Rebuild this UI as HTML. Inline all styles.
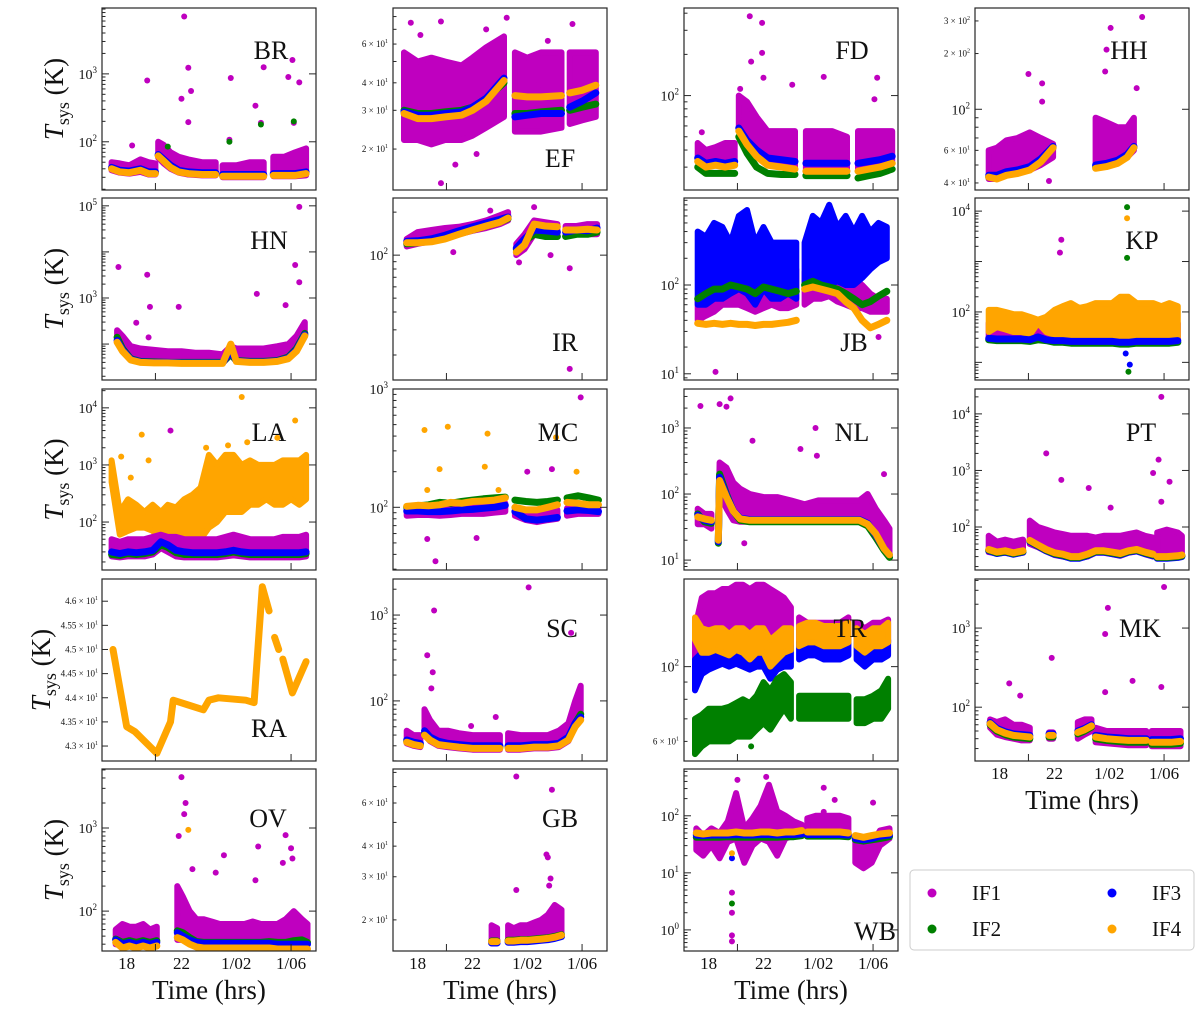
<!DOCTYPE html>
<html><head><meta charset="utf-8"><title>Tsys per station</title>
<style>
html,body{margin:0;padding:0;background:#fff;}
svg{display:block;font-family:"Liberation Serif",serif;}
</style></head>
<body>
<svg id="fig" width="1200" height="1017" viewBox="0 0 1200 1017" xmlns="http://www.w3.org/2000/svg"></svg>
<script>
// ================= DATA (hours; Tsys in K) =================
const BR_t   = [16.9,17.5,18.2,19,19.6,20.1,null,20.3,20.7,21.2,21.8,22.5,23.5,24.5,null,25.0,26,27,28,null,28.7,29.5,30.3,31.1];
const BR_if4 = [40,36,35,38,34,34,null,62,52,42,36,34,33,33,null,31,31,31,31,null,32,32,32,34];
const BR_if3 = [42,38,37,40,36,36,null,65,55,45,38,36,35,35,null,33,33,33,33,null,34,34,34,36];
const BR_if2 = [41,37,36,39,35,35,null,63,53,43,37,35,34,34,null,32,32,32,32,null,33,33,33,35];
const BR_if1lo = [38,35,34,36,33,33,null,58,48,40,35,33,32,32,null,30,30,30,30,null,31,31,31,32];
const BR_if1hi = [50,48,45,55,50,48,null,100,90,70,60,55,50,50,null,45,45,50,50,null,60,60,70,80];
const BR_out_t = [22.2,19.5,22.5,22.0,22.7,25.6,28.0,30.1,29.8,30.6,27.4,18.4,22.5,27.8,30.2,25.5];
const BR_out_v = [7000,800,1230,430,560,870,1250,1600,900,750,340,88,195,190,190,107];
const BR_g_t = [21.0,25.5,27.8,30.2];
const BR_g_v = [85,100,180,200];

const EF_t   = [17,18,19,20,21.2,22,23,24.3,null,25.1,26,27,28.5,null,29.1,30,31];
const EF_if4 = [29,27.5,27.5,28,28.5,30,33,41,null,35,34.5,34.5,35,null,36,37,39];
const EF_if3 = [29.5,28.5,28.5,29,29.5,31,34,42,null,28,28.5,29,29,null,31,33,36];
const EF_if2 = [30,29,29,29.5,30,31,34,40,null,29,29,29.5,30,null,30,31,32];
const EF_if1lo = [22,22,21,22,22,23,25,28,null,24,24,24,25,null,26,27,28];
const EF_if1hi = [55,50,52,50,48,52,58,65,null,55,52,55,55,null,55,55,55];
const EF_out_t = [19.7,24.5,17.5,19.7,20.75,29.3,26.8,22.3,18.2,23.0,27.5];
const EF_out_v = [76,79,75,14,17,74,39,19,66,70,62];

const FD_t   = [17.2,17.8,18.5,19.2,19.9,null,20.2,20.8,21.5,22.3,23.3,24.3,null,25.1,26,27,28.1,null,28.9,29.7,30.5,31.4];
const FD_if4 = [33,30,31,30,31,null,55,44,36,31,30,29,null,28,28,28,28,null,28,29,30,32];
const FD_if3 = [35,32,33,32,33,null,58,47,40,35,34,33,null,32,32,32,32,null,32,33,34,36];
const FD_if2 = [30,27,27,27,27,null,50,38,30,27,26.5,26.5,null,26,26,26,26,null,25,26,27,29];
const FD_if1lo = [33,30,31,30,31,null,55,44,36,31,30,29,null,28,28,28,28,null,28,29,30,32];
const FD_if1hi = [45,40,42,45,45,null,100,90,70,55,55,55,null,55,55,55,50,null,55,55,55,55];
const FD_out_t = [21.0,21.9,21.1,21.9,22.0,24.1,26.4,30.3,30.1,20.3,17.5];
const FD_out_v = [380,340,177,205,135,120,137,135,94,112,54];

const HH_t   = [17.2,17.8,18.5,19.3,20.2,21.0,21.9,null,25.0,25.8,26.6,27.3,27.8];
const HH_if4 = [43,42,44,45,47,52,62,null,48,49,51,55,62];
const HH_if3 = [44,44,46,47,49,54,63,null,50,51,53,57,63];
const HH_if2 = [43,43,45,46,48,53,62,null,49,50,52,56,62];
const HH_if1lo = [42,42,44,46,47,50,55,null,50,50,52,55,60];
const HH_if1hi = [60,62,68,70,75,70,65,null,90,85,80,80,90];
const HH_out_t = [28.4,26.1,25.8,25.7,20.1,21.1,21.1,28.0,21.6];
const HH_out_v = [315,275,210,160,155,138,110,130,41];

const HN_t   = [17.3,17.7,18.3,19,20,21,22,23,24,25,25.6,26,27,28,29,29.8,30.4,31.0];
const HN_if4 = [110,70,45,40,39,39,38,38,38,38,100,42,40,40,42,48,70,150];
const HN_if3 = [120,75,47,41,40,40,39,39,39,39,70,43,41,41,43,50,75,160];
const HN_if2 = [140,80,48,42,41,40,40,40,40,40,60,44,42,42,44,52,80,170];
const HN_if1lo = [110,70,45,40,39,39,38,38,38,38,60,42,40,40,42,48,70,150];
const HN_if1hi = [200,150,90,80,75,70,70,65,65,60,90,80,80,80,90,100,150,300];
const HN_out_t = [17.4,19.5,19.7,21.8,27.5,30.6,30.3,30.6,29.6,18.7,19.6];
const HN_out_v = [4700,3200,640,640,1230,95000,5200,2200,700,290,140];

const IR_t   = [17.2,18,19,20,21,22,23,24,24.6,null,25.2,25.8,26.5,27.3,28.2,null,28.8,29.6,30.4,31.1];
const IR_if4 = [122,122,124,130,140,150,160,170,182,null,105,118,165,160,158,null,150,150,152,150];
const IR_if3 = [125,126,130,138,148,158,168,178,185,null,112,130,150,148,145,null,145,150,148,155];
const IR_if2 = [120,122,128,135,142,150,160,170,180,null,110,125,140,135,135,null,135,140,140,145];
const IR_if1lo = [115,120,125,130,140,148,155,165,175,null,100,110,140,140,140,null,140,140,140,140];
const IR_if1hi = [130,145,150,155,158,165,175,190,200,null,120,140,175,170,165,null,160,160,165,165];
const IR_out_t = [29.1,29.1,20.6,26.5,23.3,25.4,27.7];
const IR_out_v = [81,16,105,217,205,89,100];

const JB_t   = [17.2,17.8,18.4,19,19.6,20.2,20.8,21.4,22,22.6,23.2,23.8,24.4,null,25.0,25.6,26.2,26.8,27.4,28,28.6,29.2,29.8,30.4,31.0];
const JB_if1lo = [40,45,50,60,60,60,55,50,55,60,55,55,60,null,60,70,70,75,65,60,55,55,50,50,50];
const JB_if1hi = [70,80,150,120,150,130,120,120,150,140,150,130,150,null,140,200,150,130,150,140,120,100,80,70,70];
const JB_if3lo = [60,60,70,70,80,90,80,60,90,70,70,80,70,null,90,100,90,100,110,100,100,120,150,180,200];
const JB_if3hi = [400,350,500,450,300,600,700,300,450,300,300,300,300,null,300,600,500,800,450,600,400,600,400,500,450];
const JB_if2 = [70,80,90,90,100,95,90,80,95,90,85,80,85,null,100,110,100,95,90,80,70,60,65,75,85];
const JB_if4 = [37,36,37,36,37,36,36,35,36,36,37,38,40,null,90,95,90,85,80,65,55,40,33,36,40];
const JB_out_t = [18.5,30.4];
const JB_out_v = [10.5,26];

const KP_t   = [17.2,17.8,18.4,19,19.6,20.2,20.8,21.4,22,22.6,23.2,23.8,24.4,25,25.6,26.2,26.8,27.4,28,28.6,29.2,29.8,30.4,31];
const KP_if2 = [28,27,27,27,27,26,28,27,25,25,24,24,24,24,24,24,23,23,24,24,24,24,24,25];
const KP_if3 = [30,29,29,29,29,28,32,28,27,27,26,26,26,26,26,26,25,25,26,26,26,26,26,27];
const KP_if4lo = [40,50,45,40,40,35,60,40,35,32,30,30,30,32,30,30,30,30,32,30,30,30,30,30];
const KP_if4hi = [110,110,100,90,90,80,70,80,110,130,150,120,130,150,150,150,200,200,150,150,150,130,150,130];
const KP_if1lo = [28,28,28,28,28,28,30,30,28,28,28,28,28,28,28,28,28,28,28,28,28,28,28,28];
const KP_if1hi = [60,70,80,50,60,50,60,70,80,70,60,60,60,70,70,80,100,100,90,60,60,60,60,60];
const KP_out_t = [22.5,22.4];
const KP_out_v = [2700,1500];
const KP_g_t = [27.3,27.3,27.4];
const KP_g_v = [12000,1180,6.5];
const KP_b_t = [27.5,27.2];
const KP_b_v = [9,15];
const KP_o_t = [27.3];
const KP_o_v = [7200];

const LA_t   = [16.9,17.5,18.1,18.7,19.3,19.9,20.5,21,21.6,22.2,22.8,23.4,24,24.6,25.2,25.8,26.4,27,27.6,28.2,28.8,29.4,30,30.6,31.1];
const LA_if3 = [30,28,30,29,30,32,45,40,32,30,29,29,29,29,30,32,30,29,29,29,29,29,29,29,30];
const LA_if2 = [27,26,28,27,28,30,40,36,29,27,27,27,27,27,28,30,28,27,27,27,27,27,27,27,28];
const LA_if1lo = [25,24,25,25,25,27,35,30,25,24,24,24,24,24,25,26,25,24,24,24,24,24,24,24,25];
const LA_if1hi = [50,45,50,50,50,55,60,55,55,50,50,50,50,50,55,60,55,50,50,50,50,55,55,55,60];
const LA_if4lo = [500,60,70,80,80,70,50,45,45,45,45,50,80,100,150,150,150,200,200,250,200,200,250,200,250];
const LA_if4hi = [1200,150,250,200,150,200,150,200,180,250,300,400,1500,1000,1500,1500,1000,1200,1000,1000,1000,1200,1200,1200,1500];
const LA_o_t = [26.4,30.3,19.1,17.6,18.3,19.6,23.8,25.4,26.8,29.0];
const LA_o_v = [15500,6000,3400,1400,600,1200,2000,2200,2500,3000];
const LA_out_t = [21.2];
const LA_out_v = [4000];

const MC_t   = [17.2,18,18.8,19.6,20.4,21.2,22,22.8,23.6,24.4,null,25.1,25.9,26.7,27.5,28.2,null,28.9,29.7,30.5,31.2];
const MC_if3 = [93,93,92,92,93,95,96,98,100,104,null,92,80,78,80,82,null,93,95,94,92];
const MC_if2 = [100,103,105,110,108,112,115,118,120,122,null,115,112,110,112,115,null,120,125,120,115];
const MC_if4 = [102,104,103,105,110,108,112,113,115,120,null,100,95,95,100,105,null,110,108,105,105];
const MC_if1lo = [85,86,86,85,86,88,88,88,90,92,null,85,78,75,78,80,null,85,88,88,88];
const MC_if1hi = [95,98,96,95,96,98,100,102,104,108,null,100,95,92,95,95,null,98,100,100,98];
const MC_o_t = [18.5,20.2,23.1,19.6,22.9,28.1,29.6,23.9,18.7];
const MC_o_v = [450,480,420,210,220,390,200,140,140];
const MC_out_t = [29.9,19.3,18.7,22.3,26.0,27.8];
const MC_out_v = [850,35,54,55,200,210];

const NL_t   = [17.2,17.7,18.2,null,18.7,18.8,19.3,19.8,20.3,21,22,23,24,25,26,27,28,29,29.6,30.2,30.8,31.2];
const NL_if4 = [45,42,40,null,20,160,90,55,42,40,40,40,40,40,40,40,40,40,35,25,15,12];
const NL_if3 = [48,40,38,null,19,180,95,56,43,41,41,41,41,41,41,41,41,41,36,24,15,12];
const NL_if2 = [50,38,36,null,18,200,100,55,40,38,38,38,38,38,38,38,38,38,33,22,14,11];
const NL_if1lo = [35,35,30,null,20,100,60,40,38,38,38,38,38,38,38,38,38,38,33,22,14,12];
const NL_if1hi = [60,50,50,null,30,300,250,150,120,100,90,90,80,70,80,80,80,80,100,60,40,30];
const NL_out_t = [17.4,18.8,19.3,19.6,25.8,21.2,24.7,30.8,20.6,25.9];
const NL_out_v = [2150,2300,2100,2800,1000,640,480,200,18,380];

const PT_t   = [17.2,17.8,18.4,19,19.7,null,20.2,20.8,21.4,22,22.6,23.2,23.8,24.4,25.0,25.6,26.2,26.8,27.4,28,28.6,29.2,null,29.5,30.2,31,31.3];
const PT_if4 = [40,36,38,35,38,null,58,48,40,35,33,30,30,33,38,38,36,34,38,40,36,33,null,30,30,31,32];
const PT_if3 = [38,34,36,33,36,null,55,46,38,33,31,28,28,31,36,36,34,32,36,38,34,31,null,28,28,29,30];
const PT_if2 = [39,35,37,34,37,null,57,47,39,34,32,29,29,32,37,37,35,33,37,39,35,32,null,29,29,30,31];
const PT_if1lo = [36,34,35,33,35,null,50,44,37,32,30,28,28,30,35,35,33,31,35,37,33,30,null,28,28,29,30];
const PT_if1hi = [70,55,60,55,60,null,130,100,90,80,75,70,70,70,65,70,70,70,75,80,70,65,null,80,90,80,70];
const PT_out_t = [29.8,21.4,29.6,29.2,30.4,22.5,24.5,29.8,26.1];
const PT_out_v = [20000,2000,1550,900,630,680,490,280,220];

const RA_t   = [17.0,18.0,18.6,20.2,21.2,21.4,22.5,23.6,24.0,24.7,26.7,27.3,27.9,28.4,null,28.8,29.1,null,29.4,30.1,31.1];
const RA_if4 = [45.0,43.4,43.3,42.85,43.5,43.95,43.85,43.75,43.95,44.0,43.95,43.9,46.3,45.8,null,45.25,45.0,null,44.8,44.1,44.75];

const SC_t   = [17.2,17.7,18.2,null,18.5,18.9,19.5,20.2,21,22,23,24,null,24.6,25.5,26.5,27.5,28.3,29,29.5,29.9];
const SC_if4 = [33,31,30,null,40,35,31,30,29,28,28,28,null,28,28,29,29,30,35,50,60];
const SC_if3 = [35,33,32,null,45,38,34,32,31,30,30,30,null,30,30,31,31,32,38,55,65];
const SC_if2 = [34,32,31,null,42,37,33,31,30,29,29,29,null,29,29,30,30,31,37,55,70];
const SC_if1lo = [32,30,29,null,40,34,30,29,28,27,27,27,null,27,27,28,28,29,34,50,60];
const SC_if1hi = [45,40,40,null,80,60,45,45,42,40,40,40,null,42,40,40,40,45,55,100,150];
const SC_out_t = [26.1,19.2,18.7,19.1,29.2,19.0,23.7,21.9];
const SC_out_v = [2100,1130,340,216,620,140,65,51];

const TR_t   = [17.0,17.5,18,18.5,19,19.5,20,20.5,21,21.5,22,22.5,23,23.5,24,null,24.6,25.2,25.8,26.4,27,27.6,28.2,null,28.8,29.4,30,30.6,31.1];
const TR_if1lo = [95,110,110,115,115,110,115,115,110,115,115,105,110,115,115,null,115,120,120,118,118,118,120,null,115,112,115,115,118];
const TR_if1hi = [130,160,165,165,170,170,175,175,170,175,175,170,165,160,150,null,140,135,135,135,135,135,140,null,135,130,135,135,138];
const TR_if3lo = [85,95,98,100,102,100,102,100,98,100,100,92,98,100,100,null,105,108,108,105,105,105,108,null,105,100,105,105,108];
const TR_if3hi = [105,110,112,115,115,112,115,115,112,115,115,110,112,115,115,null,118,120,120,118,118,118,120,null,118,112,118,118,120];
const TR_if4lo = [120,110,110,112,110,108,112,110,105,110,110,100,105,110,112,null,115,118,118,115,115,115,118,null,115,110,115,115,118];
const TR_if4hi = [140,130,128,130,130,125,130,130,125,130,130,120,125,130,130,null,132,135,135,132,132,132,135,null,130,125,130,130,135];
const TR_if2lo = [55,58,60,60,60,60,62,62,62,65,68,65,70,75,70,null,70,70,70,70,70,70,70,null,68,68,70,70,75];
const TR_if2hi = [70,72,75,75,75,76,78,80,78,82,90,85,92,95,90,null,82,82,82,82,82,82,82,null,80,80,82,85,92];
const TR_out_t = [20.4,22.0];
const TR_out_v = [173,172];
const TR_g_t = [21.1];
const TR_g_v = [58];

const MK_t   = [17.3,17.8,18.4,19,19.6,20.2,null,21.6,21.9,null,23.7,24.2,24.7,null,25.0,25.8,26.6,27.4,28.2,28.7,null,29.1,29.8,30.5,31.2];
const MK_if4 = [62,52,47,44,43,42,null,44,44,null,48,52,58,null,42,40,39,38,38,38,null,36,36,36,37];
const MK_if3 = [64,54,49,46,45,44,null,46,46,null,50,54,60,null,44,42,41,40,40,40,null,39,39,39,40];
const MK_if2 = [60,50,45,42,41,40,null,42,42,null,46,50,56,null,40,38,37,36,36,36,null,34,34,34,35];
const MK_if1lo = [55,45,42,40,38,38,null,40,40,null,40,45,50,null,36,35,34,33,33,33,null,32,32,32,32];
const MK_if1hi = [70,65,70,60,60,55,null,48,48,null,65,70,70,null,55,50,50,50,50,50,null,50,50,50,50];
const MK_out_t = [30.0,25.9,25.7,21.8,18.7,19.5,27.7,25.7,29.8];
const MK_out_v = [3300,1800,840,420,200,140,215,155,180];

const OV_t   = [17.2,17.7,18.2,18.7,19.2,19.7,20.2,null,21.7,22.1,22.6,23.1,23.6,24.2,24.8,25.4,26,26.6,27.2,27.8,28.4,29,29.6,30.2,30.8,31.2];
const OV_if4 = [42,36,38,36,38,36,38,null,48,45,40,37,36,36,36,36,36,36,36,36,36,35,35,35,35,35];
const OV_if3 = [45,40,42,40,42,40,42,null,55,50,45,42,41,41,41,41,41,41,41,41,41,40,40,40,40,40];
const OV_if2 = [46,42,44,42,44,42,44,null,58,55,48,43,42,42,42,42,42,42,42,42,43,42,42,44,45,42];
const OV_if1lo = [40,38,40,38,40,38,40,null,45,45,42,40,40,40,40,40,40,40,40,40,40,40,40,40,40,40];
const OV_if1hi = [60,70,65,65,70,60,65,null,200,150,100,80,80,75,70,70,70,70,75,70,70,70,80,100,80,70];
const OV_out_t = [22.0,22.3,22.2,21.8,25.1,27.6,29.6,30.0,29.4,30.1,24.5,27.4,22.8];
const OV_out_v = [4100,2000,1470,800,470,600,820,570,380,430,290,235,320];
const OV_o_t = [22.5];
const OV_o_v = [950];

const GB_t   = [23.4,23.8,null,24.6,25,25.5,26,26.5,27,27.5,28,28.5];
const GB_if4 = [16.3,16.3,null,16.4,16.4,16.5,16.5,16.6,16.7,16.8,17.0,17.3];
const GB_if3 = [16.1,16.1,null,16.2,16.2,16.3,16.3,16.4,16.5,16.6,16.8,17.1];
const GB_if2 = [16.4,16.4,null,16.5,16.5,16.6,16.6,16.7,16.8,16.9,17.1,17.4];
const GB_if1lo = [16.3,16.3,null,16.4,16.4,16.5,16.5,16.6,16.7,16.8,17.0,17.3];
const GB_if1hi = [19,18.5,null,19,18.5,19,19,19.5,20,21,23,22];
const GB_out_t = [25.2,27.8,27.4,27.5,27.7,25.2,27.6];
const GB_out_v = [77,68,37,36,29.5,26.5,27.6];

const WB_t   = [17.1,17.6,18.2,18.8,19.4,20,20.6,21.2,21.8,22.4,23,23.6,24.2,24.8,null,25.2,25.8,26.4,27,27.6,28.2,null,28.7,29.3,29.9,30.5,31.2];
const WB_if4 = [50,48,50,50,50,52,50,50,52,52,50,52,52,55,null,52,52,52,52,52,50,null,45,42,45,48,50];
const WB_if3 = [46,45,46,46,46,47,46,46,47,47,46,47,47,48,null,47,47,47,47,47,46,null,40,38,40,44,46];
const WB_if2 = [42,42,42,42,43,42,42,42,42,42,42,43,43,45,null,44,44,44,44,44,43,null,38,36,38,40,43];
const WB_if1lo = [25,20,30,18,35,40,15,30,40,35,20,40,45,45,null,50,50,48,48,48,48,null,15,12,15,30,40];
const WB_if1hi = [60,45,60,50,80,250,60,90,150,350,120,100,80,70,null,90,100,100,100,100,90,null,40,30,30,55,60];
const WB_out_t = [19.7,19.7,19.7,19.7,20.1,22.2,26.4,30.0,26.4,27.2];
const WB_out_v = [4.5,2,0.8,0.63,425,480,117,170,310,190];
const WB_g_t = [19.7];
const WB_g_v = [2.9];
const WB_b_t = [19.7];
const WB_b_v = [18];
const WB_o_t = [19.7];
const WB_o_v = [22];

const TIME_TICKS = [18,22,26,30];
const TIME_LABELS = ["18","22","1/02","1/06"];
const RA_TICKS = [43.0,43.5,44.0,44.5,45.0,45.5,46.0];
const RA_TICK_LABELS = ["4.3","4.35","4.4","4.45","4.5","4.55","4.6"];

// ================= LAYOUT =================
const C = {IF1:"#bf00bf", IF2:"#008000", IF3:"#0000ff", IF4:"#ffa500"};
const COLS = [102,393,684,975], PW = 214;
const ROWS = [[8,190],[198,380],[389,570],[579,761],[769,951]];
const T0 = 16.2, PXH = 13.7;
const NS = "http://www.w3.org/2000/svg";
const svg = document.getElementById('fig');

function mk(tag, attrs, parent){
  const e = document.createElementNS(NS, tag);
  for (const k in attrs) e.setAttribute(k, attrs[k]);
  (parent||svg).appendChild(e);
  return e;
}

const panels = [
 {id:"BR",c:0,r:0,lo:1.29,hi:3.97,pow:[2,3],lab:[271,50],
  lines:[[BR_t,BR_if2,"IF2"],[BR_t,BR_if3,"IF3"],[BR_t,BR_if4,"IF4"]],bands:[[BR_t,BR_if1lo,BR_if1hi,"IF1"]],
  pts:[[BR_out_t,BR_out_v,"IF1"],[BR_g_t,BR_g_v,"IF2"]]},
 {id:"EF",c:1,r:0,lo:1.115,hi:1.942,mant:[20,30,40,60],lab:[560,158],
  lines:[[EF_t,EF_if2,"IF2"],[EF_t,EF_if3,"IF3"],[EF_t,EF_if4,"IF4"]],bands:[[EF_t,EF_if1lo,EF_if1hi,"IF1"]],
  pts:[[EF_out_t,EF_out_v,"IF1"]]},
 {id:"FD",c:2,r:0,lo:1.31,hi:2.64,pow:[2],lab:[852,50],
  lines:[[FD_t,FD_if2,"IF2"],[FD_t,FD_if3,"IF3"],[FD_t,FD_if4,"IF4"]],bands:[[FD_t,FD_if1lo,FD_if1hi,"IF1"]],
  pts:[[FD_out_t,FD_out_v,"IF1"]]},
 {id:"HH",c:3,r:0,lo:1.564,hi:2.547,pow:[2],mant:[40,60,200,300],lab:[1129,50],
  lines:[[HH_t,HH_if2,"IF2"],[HH_t,HH_if3,"IF3"],[HH_t,HH_if4,"IF4"]],bands:[[HH_t,HH_if1lo,HH_if1hi,"IF1"]],
  pts:[[HH_out_t,HH_out_v,"IF1"]]},
 {id:"HN",c:0,r:1,lo:1.22,hi:5.17,pow:[3,5],lab:[269,240],
  lines:[[HN_t,HN_if2,"IF2"],[HN_t,HN_if3,"IF3"],[HN_t,HN_if4,"IF4"]],bands:[[HN_t,HN_if1lo,HN_if1hi,"IF1"]],
  pts:[[HN_out_t,HN_out_v,"IF1"]]},
 {id:"IR",c:1,r:1,lo:1.126,hi:2.40,pow:[2],lab:[565,342],
  lines:[[IR_t,IR_if2,"IF2"],[IR_t,IR_if3,"IF3"],[IR_t,IR_if4,"IF4"]],bands:[[IR_t,IR_if1lo,IR_if1hi,"IF1"]],
  pts:[[IR_out_t,IR_out_v,"IF1"]]},
 {id:"JB",c:2,r:1,lo:0.93,hi:2.98,pow:[1,2],lab:[854,342],
  lines:[[JB_t,JB_if2,"IF2"],[JB_t,JB_if4,"IF4"]],bands:[[JB_t,JB_if3lo,JB_if3hi,"IF3"],[JB_t,JB_if1lo,JB_if1hi,"IF1"]],
  order:["band1","band0","lines"],
  pts:[[JB_out_t,JB_out_v,"IF1"]]},
 {id:"KP",c:3,r:1,lo:0.65,hi:4.26,pow:[2,4],lab:[1142,240],
  lines:[[KP_t,KP_if2,"IF2"],[KP_t,KP_if3,"IF3"]],bands:[[KP_t,KP_if1lo,KP_if1hi,"IF1"],[KP_t,KP_if4lo,KP_if4hi,"IF4"]],
  pts:[[KP_out_t,KP_out_v,"IF1"],[KP_g_t,KP_g_v,"IF2"],[KP_b_t,KP_b_v,"IF3"],[KP_o_t,KP_o_v,"IF4"]]},
 {id:"LA",c:0,r:2,lo:1.16,hi:4.33,pow:[2,3,4],lab:[269,432],
  lines:[[LA_t,LA_if2,"IF2"],[LA_t,LA_if3,"IF3"]],bands:[[LA_t,LA_if1lo,LA_if1hi,"IF1"],[LA_t,LA_if4lo,LA_if4hi,"IF4"]],
  order:["band1","band0","lines"],
  pts:[[LA_out_t,LA_out_v,"IF1"],[LA_o_t,LA_o_v,"IF4"]]},
 {id:"MC",c:1,r:2,lo:1.47,hi:3.0,pow:[2,3],lab:[558,432],
  lines:[[MC_t,MC_if2,"IF2"],[MC_t,MC_if3,"IF3"],[MC_t,MC_if4,"IF4"]],bands:[[MC_t,MC_if1lo,MC_if1hi,"IF1"]],
  pts:[[MC_out_t,MC_out_v,"IF1"],[MC_o_t,MC_o_v,"IF4"]]},
 {id:"NL",c:2,r:2,lo:0.85,hi:3.59,pow:[1,2,3],lab:[852,432],
  lines:[[NL_t,NL_if2,"IF2"],[NL_t,NL_if3,"IF3"],[NL_t,NL_if4,"IF4"]],bands:[[NL_t,NL_if1lo,NL_if1hi,"IF1"]],
  pts:[[NL_out_t,NL_out_v,"IF1"]]},
 {id:"PT",c:3,r:2,lo:1.24,hi:4.44,pow:[2,3,4],lab:[1141,432],
  lines:[[PT_t,PT_if3,"IF3"],[PT_t,PT_if2,"IF2"],[PT_t,PT_if4,"IF4"]],bands:[[PT_t,PT_if1lo,PT_if1hi,"IF1"]],
  pts:[[PT_out_t,PT_out_v,"IF1"]]},
 {id:"RA",c:0,r:3,lin:true,lo:42.69,hi:46.46,lab:[269,728],
  lines:[[RA_t,RA_if4,"IF4"]],bands:[],pts:[]},
 {id:"SC",c:1,r:3,lo:1.30,hi:3.42,pow:[2,3],lab:[562,628],
  lines:[[SC_t,SC_if2,"IF2"],[SC_t,SC_if3,"IF3"],[SC_t,SC_if4,"IF4"]],bands:[[SC_t,SC_if1lo,SC_if1hi,"IF1"]],
  pts:[[SC_out_t,SC_out_v,"IF1"]]},
 {id:"TR",c:2,r:3,lo:1.72,hi:2.26,pow:[2],mant:[60],lab:[850,628],
  lines:[],bands:[[TR_t,TR_if1lo,TR_if1hi,"IF1"],[TR_t,TR_if3lo,TR_if3hi,"IF3"],[TR_t,TR_if4lo,TR_if4hi,"IF4"],[TR_t,TR_if2lo,TR_if2hi,"IF2"]],
  pts:[[TR_out_t,TR_out_v,"IF1"],[TR_g_t,TR_g_v,"IF2"]]},
 {id:"MK",c:3,r:3,lo:1.32,hi:3.62,pow:[2,3],lab:[1140,628],xlab:true,
  lines:[[MK_t,MK_if2,"IF2"],[MK_t,MK_if3,"IF3"],[MK_t,MK_if4,"IF4"]],bands:[[MK_t,MK_if1lo,MK_if1hi,"IF1"]],
  pts:[[MK_out_t,MK_out_v,"IF1"]]},
 {id:"OV",c:0,r:4,lo:1.52,hi:3.71,pow:[2,3],lab:[268,818],xlab:true,
  lines:[[OV_t,OV_if2,"IF2"],[OV_t,OV_if3,"IF3"],[OV_t,OV_if4,"IF4"]],bands:[[OV_t,OV_if1lo,OV_if1hi,"IF1"]],
  pts:[[OV_out_t,OV_out_v,"IF1"],[OV_o_t,OV_o_v,"IF4"]]},
 {id:"GB",c:1,r:4,lo:1.174,hi:1.917,mant:[20,30,40,60],lab:[560,818],xlab:true,
  lines:[[GB_t,GB_if2,"IF2"],[GB_t,GB_if3,"IF3"],[GB_t,GB_if4,"IF4"]],bands:[[GB_t,GB_if1lo,GB_if1hi,"IF1"]],
  pts:[[GB_out_t,GB_out_v,"IF1"]]},
 {id:"WB",c:2,r:4,lo:-0.37,hi:2.82,pow:[0,1,2],lab:[875,931],xlab:true,
  lines:[[WB_t,WB_if2,"IF2"],[WB_t,WB_if3,"IF3"],[WB_t,WB_if4,"IF4"]],bands:[[WB_t,WB_if1lo,WB_if1hi,"IF1"]],
  pts:[[WB_out_t,WB_out_v,"IF1"],[WB_g_t,WB_g_v,"IF2"],[WB_b_t,WB_b_v,"IF3"],[WB_o_t,WB_o_v,"IF4"]]}
];

function segs(ts, vs){
  const out=[]; let cur=[];
  for (let i=0;i<ts.length;i++){
    if (ts[i]===null || vs[i]===null){ if(cur.length) out.push(cur); cur=[]; }
    else cur.push(i);
  }
  if(cur.length) out.push(cur);
  return out;
}

panels.forEach(p=>{
  const L = COLS[p.c], R = L+PW, T = ROWS[p.r][0], B = ROWS[p.r][1];
  const X = t => L + (t - T0)*PXH;
  const Y = p.lin ? (v => B - (v - p.lo)/(p.hi-p.lo)*(B-T))
                  : (v => B - (Math.log10(v) - p.lo)/(p.hi-p.lo)*(B-T));
  const g = mk('g', {});
  
  
  const cid = 'clip'+p.id;
  const cp = mk('clipPath', {id:cid}, g);
  mk('rect', {x:L, y:T, width:PW, height:B-T}, cp);
  const plot = mk('g', {'clip-path':'url(#'+cid+')'}, g);
  
  

  function drawBand(b){
    const [ts, lo, hi, key] = b;
    segs(ts, lo).forEach(s=>{
      let pts = s.map(i=>X(ts[i]).toFixed(1)+','+Y(lo[i]).toFixed(1));
      pts = pts.concat(s.slice().reverse().map(i=>X(ts[i]).toFixed(1)+','+Y(hi[i]).toFixed(1)));
      const pg = mk('polygon', {points:pts.join(' '), fill:C[key], stroke:C[key], 'stroke-width':6, 'stroke-linejoin':'round'}, plot);
      
      
    });
  }
  function drawLine(l){
    const [ts, vs, key] = l;
    segs(ts, vs).forEach(s=>{
      if (s.length===1){
        const c = mk('circle', {cx:X(ts[s[0]]), cy:Y(vs[s[0]]), r:3.5, fill:C[key]}, plot);
        
        
        return;
      }
      const pl = mk('polyline', {points:s.map(i=>X(ts[i]).toFixed(1)+','+Y(vs[i]).toFixed(1)).join(' '), fill:'none', stroke:C[key], 'stroke-width':7, 'stroke-linecap':'round', 'stroke-linejoin':'round'}, plot);
      
      
    });
  }
  if (p.order){
    p.order.forEach(o=>{
      if (o==='lines') p.lines.forEach(drawLine);
      else drawBand(p.bands[+o.slice(4)]);
    });
  } else {
    p.bands.forEach(drawBand);
    p.lines.forEach(drawLine);
  }
  p.pts.forEach(pp=>{
    const [ts, vs, key] = pp;
    for (let i=0;i<ts.length;i++){
      const c = mk('circle', {cx:X(ts[i]), cy:Y(vs[i]), r:3, fill:C[key]}, plot);
      
      
    }
  });

  const fr = mk('rect', {x:L, y:T, width:PW, height:B-T, fill:'none', stroke:'#262626', 'stroke-width':1.2}, g);
  
  

  const ax = mk('g', {}, g);
  
  
  if (p.lin){
    RA_TICKS.forEach((v,i)=>{
      const y = Y(v);
      mk('line', {x1:L, x2:L+6, y1:y, y2:y, stroke:'#262626', 'stroke-width':1}, ax);
      const tx = mk('text', {x:L-4, y:y+3, 'font-size':9, 'text-anchor':'end', fill:'#111'}, ax);
      tx.textContent = RA_TICK_LABELS[i] + ' \u00d7 10';
      const sp = mk('tspan', {dy:-4, 'font-size':6}, tx); sp.textContent = '1';
      
      
    });
  } else {
    for (let d=Math.floor(p.lo); d<=Math.ceil(p.hi); d++){
      for (let m=1; m<=9; m++){
        const lv = d + Math.log10(m);
        if (lv < p.lo || lv > p.hi) continue;
        const y = B - (lv - p.lo)/(p.hi-p.lo)*(B-T);
        mk('line', {x1:L, x2:L+(m===1?7:3.5), y1:y, y2:y, stroke:'#262626', 'stroke-width':1}, ax);
        if (m===1) mk('line', {x1:R, x2:R-7, y1:y, y2:y, stroke:'#262626', 'stroke-width':1}, ax);
      }
    }
    (p.pow||[]).forEach(e=>{
      const y = Y(Math.pow(10,e));
      const tx = mk('text', {x:L-5, y:y+5, 'font-size':14, 'text-anchor':'end', fill:'#111'}, ax);
      tx.textContent = '10';
      const sp = mk('tspan', {dy:-6, 'font-size':9}, tx); sp.textContent = String(e);
      
      
    });
    (p.mant||[]).forEach(v=>{
      const y = Y(v);
      const ex = Math.floor(Math.log10(v)), mt = Math.round(v/Math.pow(10,ex));
      const tx = mk('text', {x:L-5, y:y+3, 'font-size':9, 'text-anchor':'end', fill:'#111'}, ax);
      tx.textContent = mt + ' \u00d7 10';
      const sp = mk('tspan', {dy:-4, 'font-size':6}, tx); sp.textContent = String(ex);
      
      
    });
  }
  [20.1, 30].forEach(t=>{
    mk('line', {x1:X(t), x2:X(t), y1:B, y2:B-7, stroke:'#262626', 'stroke-width':1}, g);
  });
  if (p.r===4 || p.xlab){
    TIME_TICKS.forEach((t,i)=>{
      const tx = mk('text', {x:X(t), y:B+18, 'font-size':17, 'text-anchor':'middle', fill:'#111'}, g);
      tx.textContent = TIME_LABELS[i];
      
      
    });
    const xl = mk('text', {x:L+PW/2, y:B+48, 'font-size':27, 'text-anchor':'middle', fill:'#111'}, g);
    xl.textContent = 'Time (hrs)';
    
    
  }
  if (p.c===0){
    const cy = (T+B)/2;
    const yl = mk('text', {x:0, y:0, 'font-size':27, 'text-anchor':'middle', fill:'#111', transform:'translate('+(p.lin?50:63)+','+cy+') rotate(-90)'}, g);
    const t1 = mk('tspan', {'font-style':'italic'}, yl); t1.textContent = 'T';
    const t2 = mk('tspan', {'font-size':18, dy:6}, yl); t2.textContent = 'sys';
    const t3 = mk('tspan', {dy:-6}, yl); t3.textContent = ' (K)';
    
    
  }
  const lb = mk('text', {x:p.lab[0], y:p.lab[1]+9, 'font-size':26, 'text-anchor':'middle', fill:'#111'}, g);
  lb.textContent = p.id;
  
  
});

const lg = mk('g', {});


const lbox = mk('rect', {x:910, y:870, width:284, height:80, rx:4, fill:'#fff', stroke:'#ccc', 'stroke-width':1}, lg);


[["IF1",932,893],["IF2",932,929],["IF3",1112,893],["IF4",1112,929]].forEach(([k,x,y])=>{
  const e = mk('g', {}, lg);
  
  
  mk('circle', {cx:x, cy:y, r:4.5, fill:C[k]}, e);
  const tx = mk('text', {x:x+40, y:y+7, 'font-size':21, fill:'#111'}, e);
  tx.textContent = k;
});
</script>
</body></html>
